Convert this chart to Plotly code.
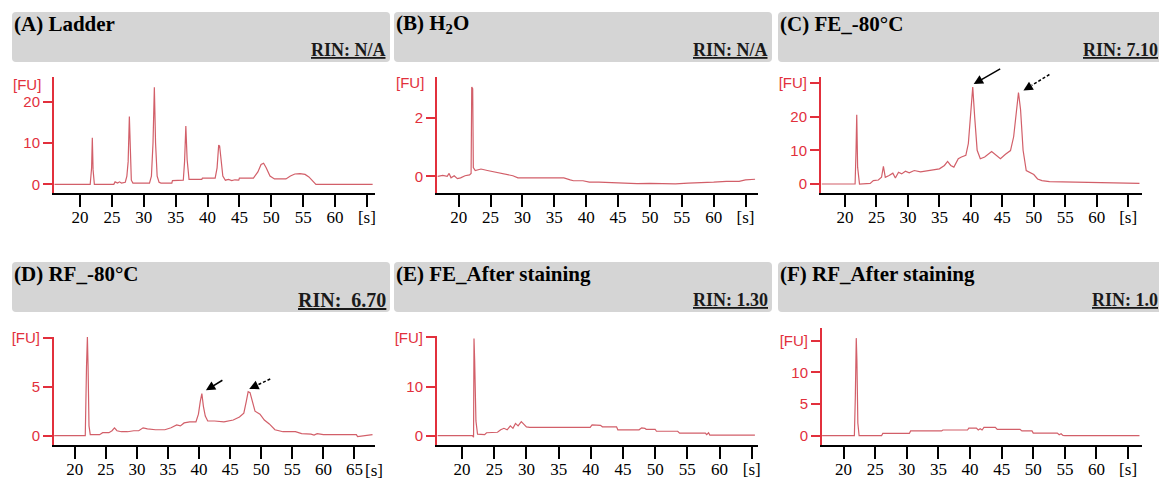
import plotly.graph_objects as go

W, H = 1159, 481

# ---------------- data (time [s], fluorescence [FU]) ----------------
A_t = [16.0, 21.6, 21.82, 21.93, 22.05, 22.25, 25.3, 25.5, 25.9, 26.2, 26.5, 27.1, 27.35, 27.55, 27.74, 27.9,
       28.05, 28.3, 30.9, 31.2, 31.45, 31.66, 31.85, 32.1, 32.4, 32.7, 34.4, 34.5, 36.2, 36.4, 36.6, 36.8,
       37.1, 37.4, 39.1, 39.2, 41.2, 41.5, 41.75, 41.9, 42.1, 42.4, 42.8, 43.3, 43.8, 44.3, 44.9, 45.0,
       47.2, 47.9, 48.4, 48.8, 49.2, 49.8, 50.5, 52.3, 53.0, 53.7, 54.5, 55.3, 55.9, 56.5, 57.0, 65.9]
A_fu = [0.0, 0.0, 4.0, 11.3, 3.5, 0.0, 0.0, 0.6, 0.3, 0.6, 0.3, 0.5, 2.0, 5.5, 16.4, 5.0,
        1.0, 0.3, 0.3, 2.0, 10.0, 23.5, 10.0, 2.0, 0.5, 0.3, 0.3, 0.9, 1.0, 5.5, 14.1, 6.0,
        1.2, 1.2, 1.2, 1.5, 1.5, 4.0, 9.5, 9.3, 6.0, 2.0, 1.0, 1.2, 0.9, 1.1, 1.0, 1.5,
        1.5, 3.0, 4.8, 5.1, 4.0, 2.0, 1.3, 1.3, 2.0, 2.5, 2.6, 2.4, 1.8, 0.8, 0.0, 0.0]

B_t = [16.7, 17.5, 18.2, 18.5, 18.8, 19.3, 19.8, 20.3, 21.0, 21.7, 21.95, 22.05, 22.2, 22.3, 22.6,
       23.5, 24.5, 25.5, 26.5, 27.5, 28.5, 29.3, 30.5, 32.0, 34.0, 35.5, 36.5, 37.5, 38.0, 39.5,
       40.5, 42.0, 44.0, 46.0, 48.0, 50.0, 52.0, 54.0, 56.0, 58.0, 60.0, 62.0, 64.0, 65.0, 66.5]
B_fu = [0.0, 0.03, 0.0, 0.1, -0.05, 0.02, -0.08, -0.05, 0.02, 0.05, 0.1, 3.06, 3.0, 0.3, 0.2,
        0.25, 0.2, 0.15, 0.1, 0.05, 0.02, -0.05, -0.05, -0.06, -0.05, -0.07, -0.05, -0.12, -0.15, -0.15,
        -0.2, -0.2, -0.22, -0.23, -0.25, -0.24, -0.25, -0.26, -0.23, -0.22, -0.2, -0.17, -0.17, -0.12, -0.1]

C_t = [16.3, 21.6, 21.75, 21.86, 22.0, 22.3, 24.0, 24.5, 25.3, 25.8, 26.1, 26.4, 27.0, 27.6, 28.0,
       28.5, 29.0, 29.6, 30.2, 31.0, 32.0, 33.0, 34.0, 35.0, 35.8, 36.3, 36.8, 37.3, 38.0, 38.5,
       39.2, 39.6, 40.0, 40.3, 40.6, 41.0, 41.5, 42.2, 43.3, 44.0, 44.7, 45.5, 46.3, 46.8, 47.2,
       47.57, 47.9, 48.3, 48.8, 49.3, 50.0, 50.6, 51.3, 52.5, 56.0, 58.0, 60.0, 62.0, 63.0, 66.8]
C_fu = [0.0, 0.0, 10.0, 20.5, 5.0, 0.0, 0.2, 1.0, 1.2, 2.0, 5.2, 2.0, 2.5, 3.2, 1.8,
        3.5, 3.0, 3.8, 3.3, 4.0, 3.6, 3.8, 4.2, 4.5, 5.5, 6.7, 5.5, 5.0, 7.5, 8.0,
        8.5, 12.0, 22.0, 28.7, 20.0, 10.0, 7.5, 8.0, 9.6, 8.5, 7.5, 8.8, 9.9, 14.0, 22.0,
        27.1, 22.0, 10.0, 4.0, 3.4, 2.8, 1.5, 1.0, 0.7, 0.6, 0.5, 0.4, 0.3, 0.2, 0.2]

D_t = [16.7, 21.7, 21.9, 22.04, 22.15, 22.3, 22.5, 24.0, 24.5, 25.5, 26.0, 26.4, 26.8, 27.5, 28.5,
       29.5, 30.3, 31.0, 31.7, 33.0, 34.5, 35.5, 36.4, 37.0, 37.6, 38.5, 39.5, 39.9, 40.2, 40.45,
       40.7, 41.0, 41.4, 42.5, 44.0, 45.5, 46.5, 47.2, 47.6, 47.9, 48.2, 48.6, 49.0, 49.8, 50.5,
       51.3, 52.2, 53.5, 55.5, 56.5, 58.0, 58.5, 59.0, 60.0, 62.0, 64.0, 65.3, 65.5, 67.9]
D_fu = [0.0, 0.0, 7.1, 10.1, 7.1, 1.0, 0.1, 0.1, 0.3, 0.3, 0.5, 0.8, 0.5, 0.4, 0.4,
        0.5, 0.5, 0.8, 0.7, 0.6, 0.6, 0.8, 1.1, 1.0, 1.3, 1.4, 1.4, 2.2, 3.5, 4.3,
        3.0, 2.0, 1.5, 1.5, 1.4, 1.6, 1.9, 2.3, 3.5, 4.5, 4.4, 3.5, 2.5, 2.2, 1.6,
        1.2, 0.6, 0.4, 0.4, 0.2, 0.15, 0.05, 0.2, 0.1, 0.1, 0.1, 0.1, -0.1, 0.1]

E_t = [16.2, 21.6, 21.78, 21.85, 21.95, 22.15, 22.4, 23.5, 23.8, 25.5, 26.0, 26.5, 27.0, 27.5, 27.9,
       28.3, 28.7, 29.2, 29.6, 30.0, 30.5, 39.9, 40.2, 41.5, 41.8, 44.0, 44.2, 47.5, 47.9, 48.4,
       48.6, 50.0, 50.2, 53.5, 53.8, 57.8, 58.0, 58.3, 58.5, 65.5]
E_fu = [0.0, 0.0, -0.3, 19.8, 15.4, 3.0, 0.3, 0.2, 0.6, 0.7, 1.2, 1.5, 1.2, 2.0, 1.5,
        2.5, 2.0, 2.85, 2.3, 1.8, 1.7, 1.7, 2.2, 2.1, 1.8, 1.8, 1.2, 1.2, 1.6, 1.5,
        1.3, 1.3, 0.9, 0.9, 0.5, 0.5, 0.2, 0.6, 0.1, 0.1]

F_t = [16.6, 21.7, 21.85, 22.0, 22.1, 22.25, 22.45, 26.0, 26.2, 30.4, 30.6, 35.5, 35.7, 39.6, 39.8,
       41.0, 41.3, 41.6, 41.9, 42.2, 44.0, 44.3, 47.9, 48.2, 49.8, 50.0, 53.8, 54.1, 54.4, 54.7,
       55.0, 66.8]
F_fu = [0.0, 0.0, 6.0, 15.4, 12.0, 2.0, 0.0, 0.0, 0.35, 0.35, 0.75, 0.75, 0.9, 0.9, 1.2,
        1.2, 0.9, 1.1, 0.9, 1.3, 1.3, 1.0, 1.0, 0.75, 0.75, 0.4, 0.4, 0.15, 0.3, 0.05,
        0.0, 0.0]

# ---------------- ticks and labels ----------------
X_TICKS = [20, 25, 30, 35, 40, 45, 50, 55, 60, 65]
X_TICKTEXT = ["20", "25", "30", "35", "40", "45", "50", "55", "60", "[s]"]
X_TICKTEXT_D = ["20", "25", "30", "35", "40", "45", "50", "55", "60", "65"]

A_YTICKS, A_YTEXT = [0, 10, 20], ["0", "10", "20"]
B_YTICKS, B_YTEXT = [0, 2], ["0", "2"]
C_YTICKS, C_YTEXT = [0, 10, 20, 30], ["0", "10", "20", "[FU]"]
D_YTICKS, D_YTEXT = [0, 5, 10], ["0", "5", "[FU]"]
E_YTICKS, E_YTEXT = [0, 10, 20], ["0", "10", "[FU]"]
F_YTICKS, F_YTEXT = [0, 5, 10, 15], ["0", "5", "10", "[FU]"]

TITLES = ["(A) Ladder", "(B) H<sub>2</sub>O", "(C) FE_-80°C",
          "(D) RF_-80°C", "(E) FE_After staining", "(F) RF_After staining"]
RINS = ["RIN: N/A", "RIN: N/A", "RIN: 7.10", "RIN:&nbsp;&nbsp;6.70", "RIN: 1.30", "RIN: 1.0"]
RIN_SIZES = [18, 18, 18, 20, 18, 18]

# ---------------- styling ----------------
RED = "#e2303c"
TRACE = "#d25f69"
GRAY = "#d5d5d5"
SERIF = "Liberation Serif"
NARROW = "Liberation Sans Narrow"
SANS = "Liberation Sans"

# plot area in pixels: (left, right, top, bottom)
panels = [
    dict(t=A_t, fu=A_fu, box=(54, 375, 77, 193), xr=[15.92, 66.27], yr=[-2.1, 26.0],
         yt=A_YTICKS, ytt=A_YTEXT, xtt=X_TICKTEXT, hdr=(12, 390, 12, 62)),
    dict(t=B_t, fu=B_fu, box=(437, 758, 77, 193), xr=[16.6, 66.96], yr=[-0.57, 3.40],
         yt=B_YTICKS, ytt=B_YTEXT, xtt=X_TICKTEXT, hdr=(394, 772, 12, 62)),
    dict(t=C_t, fu=C_fu, box=(821, 1142, 77, 193), xr=[16.18, 67.2], yr=[-2.66, 31.7],
         yt=C_YTICKS, ytt=C_YTEXT, xtt=X_TICKTEXT, hdr=(778, 1162, 12, 62)),
    dict(t=D_t, fu=D_fu, box=(54, 375, 337, 445), xr=[16.67, 68.3], yr=[-0.96, 10.1],
         yt=D_YTICKS, ytt=D_YTEXT, xtt=X_TICKTEXT_D, hdr=(12, 390, 262, 312)),
    dict(t=E_t, fu=E_fu, box=(437, 758, 336, 445), xr=[16.1, 65.98], yr=[-1.9, 20.3],
         yt=E_YTICKS, ytt=E_YTEXT, xtt=X_TICKTEXT, hdr=(394, 772, 262, 312)),
    dict(t=F_t, fu=F_fu, box=(822, 1142, 328, 445), xr=[16.58, 67.2], yr=[-1.47, 17.0],
         yt=F_YTICKS, ytt=F_YTEXT, xtt=X_TICKTEXT, hdr=(778, 1162, 262, 312)),
]


def px_x(px):
    return px / W


def px_y(py):
    return 1 - py / H


def data_to_px(p, x, y):
    l, r, t, b = p["box"]
    x0, x1 = p["xr"]
    y0, y1 = p["yr"]
    return l + (x - x0) / (x1 - x0) * (r - l), b - (y - y0) / (y1 - y0) * (b - t)


fig = go.Figure()
layout = dict(width=W, height=H, autosize=False, margin=dict(l=0, r=0, t=0, b=0, pad=0, autoexpand=False),
              paper_bgcolor="white", plot_bgcolor="white", showlegend=False)
shapes, annotations = [], []

for i, p in enumerate(panels, start=1):
    sfx = "" if i == 1 else str(i)
    l, r, t, b = p["box"]
    fig.add_trace(go.Scatter(x=p["t"], y=p["fu"], mode="lines",
                             line=dict(color=TRACE, width=1.2),
                             xaxis="x" + sfx, yaxis="y" + sfx, hoverinfo="skip"))
    layout["xaxis" + sfx] = dict(
        domain=[px_x(l), px_x(r)], range=p["xr"], anchor="y" + sfx, automargin=False,
        tickmode="array", tickvals=X_TICKS, ticktext=p["xtt"],
        ticks="outside", ticklen=12, tickwidth=2, tickcolor="black",
        ticklabelstandoff=-4,
        showline=True, linecolor="black", linewidth=2,
        showgrid=False, zeroline=False,
        tickfont=dict(family=NARROW, size=17, color="black"))
    layout["yaxis" + sfx] = dict(
        domain=[px_y(b), px_y(t)], range=p["yr"], anchor="x" + sfx, automargin=False,
        tickmode="array", tickvals=p["yt"], ticktext=p["ytt"],
        ticks="outside", ticklen=9, tickwidth=2, tickcolor=RED,
        showline=True, linecolor=RED, linewidth=2,
        showgrid=False, zeroline=False,
        tickfont=dict(family=SANS, size=15, color=RED))

    # header box
    hl, hr, ht, hb = p["hdr"]
    rx, ry = 4 / W, 4 / H
    x0, x1, y0, y1 = px_x(hl), px_x(hr), px_y(hb), px_y(ht)
    path = (f"M {x0+rx},{y1} L {x1-rx},{y1} Q {x1},{y1} {x1},{y1-ry} L {x1},{y0+ry} "
            f"Q {x1},{y0} {x1-rx},{y0} L {x0+rx},{y0} Q {x0},{y0} {x0},{y0+ry} "
            f"L {x0},{y1-ry} Q {x0},{y1} {x0+rx},{y1} Z")
    shapes.append(dict(type="path", xref="paper", yref="paper", path=path,
                       fillcolor=GRAY, line=dict(width=0), layer="below"))
    annotations.append(dict(xref="paper", yref="paper", x=px_x(hl), y=px_y(ht + 12),
                            xanchor="left", yanchor="middle", showarrow=False,
                            text="<b>" + TITLES[i - 1] + "</b>",
                            font=dict(family=SERIF, size=21, color="black")))
    annotations.append(dict(xref="paper", yref="paper", x=px_x(hr - 2), y=px_y(ht + 38),
                            xanchor="right", yanchor="middle", showarrow=False,
                            text="<b><u>" + RINS[i - 1] + "</u></b>",
                            font=dict(family=SERIF, size=RIN_SIZES[i - 1], color="#1a1a1a")))

# [FU] labels for the panels without a top tick
for idx, ypx in ((0, 84), (1, 82)):
    l = panels[idx]["box"][0]
    annotations.append(dict(xref="paper", yref="paper", x=px_x(l - 11), y=px_y(ypx),
                            xanchor="right", yanchor="middle", showarrow=False, text="[FU]",
                            font=dict(family=SANS, size=15, color=RED)))

# [s] label in panel D (beside the 65 tick)
annotations.append(dict(xref="x4", yref="paper", x=68.2, y=px_y(470),
                        xanchor="center", yanchor="middle", showarrow=False, text="[s]",
                        font=dict(family=NARROW, size=17, color="black")))

# arrows: (panel index, tip x, tip y, tail dx px, tail dy px, dashed)
ARROWS = [(2, 40.45, 29.6, 28, -16, False), (2, 48.35, 27.7, 26, -16, True),
          (3, 41.1, 4.64, 18, -11, False), (3, 48.07, 4.78, 21, -10, True)]
for pi, ax_, ay_, dx, dy, dashed in ARROWS:
    sfx = str(pi + 1)
    if not dashed:
        annotations.append(dict(xref="x" + sfx, yref="y" + sfx, x=ax_, y=ay_, ax=dx, ay=dy,
                                text="", showarrow=True, arrowhead=2, arrowsize=1.25,
                                arrowwidth=1.5, arrowcolor="black", standoff=0))
    else:
        tx, ty = data_to_px(panels[pi], ax_, ay_)
        f = 0.32
        shapes.append(dict(type="line", xref="paper", yref="paper",
                           x0=px_x(tx + dx), y0=px_y(ty + dy),
                           x1=px_x(tx + dx * f), y1=px_y(ty + dy * f),
                           line=dict(color="black", width=1.5, dash="3px,2px")))
        annotations.append(dict(xref="x" + sfx, yref="y" + sfx, x=ax_, y=ay_,
                                ax=dx * f + 1, ay=dy * f - 0.5,
                                text="", showarrow=True, arrowhead=2, arrowsize=1.25,
                                arrowwidth=1.5, arrowcolor="black", standoff=0))

layout["shapes"] = shapes
layout["annotations"] = annotations
fig.update_layout(**layout)
fig.write_html("out.html")
